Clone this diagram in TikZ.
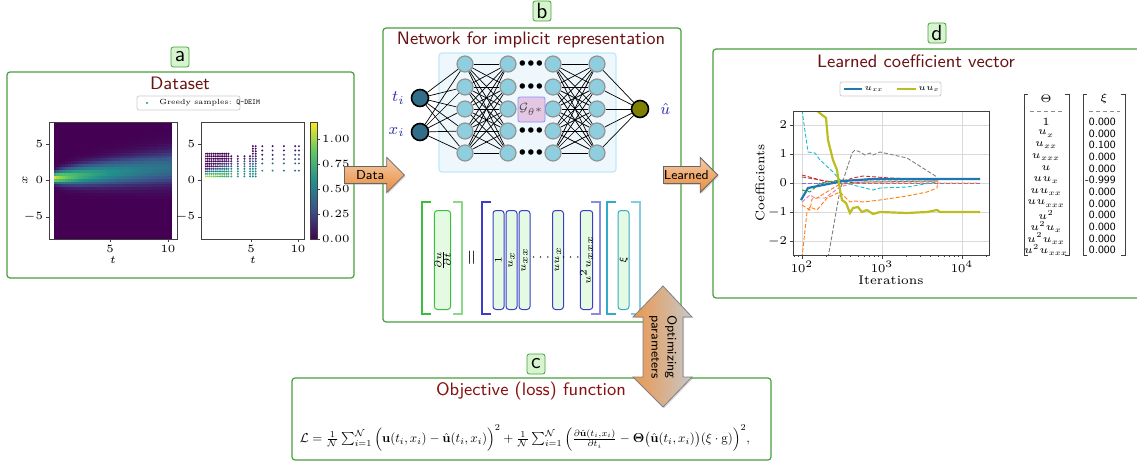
\RequirePackage{fix-cm}
\documentclass[tikz,border=0pt]{standalone}
\usepackage{amsmath}
\usepackage{xcolor}
\usepackage{graphicx}
\usetikzlibrary{positioning, backgrounds, shapes.arrows, shadows}

\definecolor{frame}{RGB}{70,160,60}
\definecolor{tagfill}{RGB}{214,245,206}
\definecolor{ttlred}{RGB}{105,20,20}
\definecolor{flowor}{RGB}{232,140,60}
\definecolor{nnblue}{RGB}{142,206,222}
\definecolor{nnteal}{RGB}{48,110,138}
\definecolor{nnolive}{RGB}{128,128,0}
\definecolor{nnlabel}{RGB}{50,50,170}
\definecolor{boxbg}{RGB}{238,248,252}
\definecolor{vecfill}{RGB}{228,250,226}
\definecolor{vecgreen}{RGB}{60,190,60}
\definecolor{vecblue}{RGB}{60,60,200}
\definecolor{veccyan}{RGB}{50,170,200}
\definecolor{vir0}{HTML}{440154}
\definecolor{vir1}{HTML}{3B528B}
\definecolor{vir2}{HTML}{21918C}
\definecolor{vir3}{HTML}{5EC962}
\definecolor{vir4}{HTML}{FDE725}
\definecolor{tabblue}{HTML}{1F77B4}
\definecolor{taborange}{HTML}{FF7F0E}
\definecolor{tabgreen}{HTML}{2CA02C}
\definecolor{tabred}{HTML}{D62728}
\definecolor{tabpurple}{HTML}{9467BD}
\definecolor{tabbrown}{HTML}{8C564B}
\definecolor{tabpink}{HTML}{E377C2}
\definecolor{tabgray}{HTML}{7F7F7F}
\definecolor{tabolive}{HTML}{BCBD22}
\definecolor{tabcyan}{HTML}{17BECF}

% viridis colour of the plume at (t,x), stored in cc
\newcommand{\plumecolor}[2]{%
  \pgfmathsetmacro\plz{min(9,((#2-0.3-0.14*#1)/(0.45+0.55*sqrt(#1)))^2)}%
  \pgfmathsetmacro\plv{1.15/((1+0.4*#1)^0.6)*exp(0-\plz)}%
  \pgfmathsetmacro\pln{min(3.999,\plv/1.17*4)}%
  \pgfmathtruncatemacro\plk{\pln}%
  \pgfmathtruncatemacro\plkk{\plk+1}%
  \pgfmathsetmacro\plf{(\pln-\plk)*100}%
  \colorlet{cc}{vir\plkk!\plf!vir\plk}}

\begin{document}
\begin{tikzpicture}[x=0.5pt, y=-0.5pt,
    panel/.style={draw=frame, line width=0.6pt, rounded corners=1.5pt},
    tag/.style={draw=frame, fill=tagfill, rounded corners=1.2pt, inner sep=0.8pt,
                minimum width=9pt, minimum height=10pt, font=\fontsize{11}{11}\sffamily},
    ttl/.style={text=ttlred, font=\fontsize{9}{10}\sffamily},
    tick/.style={font=\fontsize{5.5}{6}\selectfont, inner sep=0.8pt},
    axis/.style={draw=black!75, line width=0.4pt},
    grid/.style={draw=black!15, line width=0.5pt},
    flow/.style={single arrow, draw=black!60, top color=flowor!45!white, bottom color=flowor,
                 single arrow head extend=4.5pt, inner ysep=1.8pt, inner xsep=1pt,
                 font=\fontsize{6.5}{7}\sffamily, drop shadow={opacity=0.3, shadow xshift=0.6pt, shadow yshift=-0.6pt}},
    neuron/.style={circle, draw=gray!85, fill=nnblue, line width=0.6pt, minimum size=8pt, inner sep=0pt},
    inp/.style={circle, draw=black, fill=nnteal, line width=0.8pt, minimum size=8.5pt, inner sep=0pt},
    wire/.style={line width=0.35pt},
    vec/.style={fill=vecfill, rounded corners=1.5pt, line width=0.5pt, rotate=90,
                minimum width=49.5pt, minimum height=5.5pt, inner sep=0pt, font=\fontsize{5}{5}\selectfont},
    brk/.style={line width=0.6pt},
    cdash/.style={dash pattern=on 2pt off 1pt, line width=0.45pt},
    ent/.style={font=\fontsize{5.5}{6}\selectfont, inner sep=0pt},
  ]
\useasboundingbox (0,0) rectangle (1137,466);

% ---------------- panel a: dataset
\draw[panel] (7,72) rectangle (354,278);
\node[tag] (taga) at (180,57) {a};
\node[ttl] (ttla) at (180,83) {Dataset};
\draw[draw=black!20, rounded corners=1pt] (137,96) rectangle (240,110);
\fill[vir2] (147,103) circle (0.6pt);
\node[font=\fontsize{3.7}{4}\selectfont, anchor=west, inner sep=0pt] (lega) at (159,103) {Greedy samples: \texttt{Q-DEIM}};

% heat map
\begin{scope}
  \clip (54,122) rectangle (172,239);
  \fill[vir0] (54,122) rectangle (172,239);
  \begin{scope}[shift={(52,180)}, x=5.8pt, y=3.6pt]
    \foreach \ti in {0.25,0.5,...,10.3}
      \foreach \yi in {-2.4,-2,...,6.5} {
        \plumecolor{\ti}{\yi}
        \fill[cc] (\ti-0.13,\yi-0.21) rectangle (\ti+0.13,\yi+0.21);
      }
  \end{scope}
\end{scope}
\draw[axis] (49,122) rectangle (177,239);
\foreach \yy/\lab [count=\k] in {144/5,180/0,217/-5} {
  \draw[axis] (49,\yy) -- (46,\yy);
  \node[tick, anchor=east] (ayl\k) at (45,\yy) {$\lab$};
}
\foreach \xx/\lab [count=\k] in {110/5,168/10} {
  \draw[axis] (\xx,239) -- (\xx,242);
  \node[tick, anchor=north] (axl\k) at (\xx,243) {$\lab$};
}
\node[tick, rotate=90] (axy) at (25,180) {$x$};
\node[tick] (axt) at (113,260) {$t$};

% greedy samples
\begin{scope}[shift={(204,180)}, x=4.7pt, y=3.6pt]
  \foreach \ti in {0.2,0.4,...,2.65}
    \foreach \yi in {0.5,0.85,...,3.8} { \plumecolor{\ti}{\yi} \fill[cc] (\ti,\yi) circle (0.55pt); }
  \foreach \ti in {2.9,3.6,4.3,4.9}
    \foreach \yi in {0.5,0.85,...,3.4} { \plumecolor{\ti}{\yi} \fill[cc] (\ti,\yi) circle (0.55pt); }
  \foreach \ti in {5.2,5.5}
    \foreach \yi in {0.5,0.85,...,4.8} { \plumecolor{\ti}{\yi} \fill[cc] (\ti,\yi) circle (0.55pt); }
  \foreach \ti in {6.2,7.3,8.5,9.7,10.1}
    \foreach \yi in {1.3,2.3,2.9,3.5,4.1,4.7} { \plumecolor{\ti}{\yi} \fill[cc] (\ti,\yi) circle (0.55pt); }
\end{scope}
\draw[axis] (201,122) rectangle (304,239);
\foreach \yy/\lab [count=\k] in {144/5,180/0,217/-5} {
  \draw[axis] (201,\yy) -- (198,\yy);
  \node[tick, anchor=east] (byl\k) at (197,\yy) {$\lab$};
}
\foreach \xx/\lab [count=\k] in {251/5,298/10} {
  \draw[axis] (\xx,239) -- (\xx,242);
  \node[tick, anchor=north] (bxl\k) at (\xx,243) {$\lab$};
}
\node[tick] (bxt) at (253,260) {$t$};

% colour bar
\shade[bottom color=vir0, top color=vir1] (310,239) rectangle (317,209.75);
\shade[bottom color=vir1, top color=vir2] (310,209.75) rectangle (317,180.5);
\shade[bottom color=vir2, top color=vir3] (310,180.5) rectangle (317,151.25);
\shade[bottom color=vir3, top color=vir4] (310,151.25) rectangle (317,122);
\draw[axis] (310,122) rectangle (317,239);
\foreach \yy/\lab [count=\k] in {139/1.00,164/0.75,189/0.50,214/0.25,239/0.00} {
  \draw[axis] (317,\yy) -- (320,\yy);
  \node[tick, anchor=west] (cbl\k) at (320,\yy) {$\lab$};
}

% ---------------- panel b: network
\draw[panel] (383,28) rectangle (681,322);
\node[tag] (tagb) at (542,11) {b};
\node[ttl] (ttlb) at (531,40) {Network for implicit representation};

\node[inp] (in1) at (420,98) {};
\node[inp] (in2) at (420,132) {};
\node[left=-0.5pt of in1, text=nnlabel, font=\fontsize{8}{8}\selectfont] (lt) {$t_i$};
\node[left=-0.5pt of in2, text=nnlabel, font=\fontsize{8}{8}\selectfont] (lx) {$x_i$};
\foreach \c/\xx in {1/465,2/508,3/553,4/597}
  \foreach \r/\yy in {1/64,2/87,3/109,4/131,5/153}
    \node[neuron] (h\c-\r) at (\xx,\yy) {};
\node[inp, fill=nnolive] (out) at (640,109) {};
\node[right=2pt of out, text=nnlabel, font=\fontsize{8}{8}\selectfont] (lu) {$\hat{u}$};
\foreach \r/\yy in {1/64,2/87,4/131,5/153}
  \node[font=\fontsize{6}{6}\selectfont, inner sep=0pt] (dots\r) at (531,\yy) {$\bullet\!\bullet\!\bullet$};
\node[draw=blue!45, fill=violet!22, rounded corners=1pt, minimum width=13.5pt, minimum height=12.5pt,
      inner sep=0pt, text=black!70, font=\fontsize{6}{6}\selectfont] (gth) at (531.5,109.5) {$\mathcal{G}_{\theta^*}$};

\begin{scope}[on background layer]
  \draw[draw=cyan!25, fill=boxbg, line width=0.6pt, rounded corners=1.5pt] (439,53) rectangle (616,172);
  \foreach \i in {1,2}
    \foreach \r in {1,...,5} \draw[wire] (in\i) -- (h1-\r);
  \foreach \a in {1,...,5}
    \foreach \b in {1,...,5} {
      \draw[wire] (h1-\a) -- (h2-\b);
      \draw[wire] (h3-\a) -- (h4-\b);
    }
  \foreach \r in {1,...,5} \draw[wire] (h4-\r) -- (out);
\end{scope}

% library of candidate terms
\foreach \l/\r/\c in {422/462/vecgreen, 482/600/vecblue, 607/640/veccyan} {
  \draw[brk, \c] (\l+9,202) -- (\l,202) -- (\l,314) -- (\l+9,314);
  \draw[brk, \c!60] (\r-9,202) -- (\r,202) -- (\r,314) -- (\r-9,314);
}
\node[vec, draw=vecgreen, minimum height=6.5pt] (dudt) at (442.5,260) {$\frac{\partial u}{\partial t}$};
\node[rotate=90, font=\fontsize{10}{10}\selectfont] (eqs) at (473,258) {$=$};
\node[vec, draw=vecblue] (th1) at (498.5,260) {$1$};
\node[vec, draw=vecblue] (th2) at (511.5,260) {$u_x$};
\node[vec, draw=vecblue] (th3) at (524.5,260) {$u_{xx}$};
\node[font=\fontsize{6}{6}\selectfont] (vd1) at (542,258) {$\cdots$};
\node[vec, draw=vecblue] (th4) at (558,260) {$uu_x$};
\node[font=\fontsize{6}{6}\selectfont] (vd2) at (572,258) {$\cdots$};
\node[vec, draw=vecblue] (th5) at (586.5,260) {$u^2u_{xxx}$};
\node[vec, draw=veccyan] (xiv) at (623.5,260) {$\xi$};

% ---------------- panel c: loss
\draw[panel] (292,378) rectangle (771,460);
\node[tag] (tagc) at (536,364) {c};
\node[ttl, text=ttlred!80!red] (ttlc) at (531,391) {Objective (loss) function};
\node[inner sep=0pt] (loss) at (525,438)
  {\resizebox{225pt}{!}{$\mathcal{L} = \frac{1}{\mathcal{N}}\sum_{i=1}^{\mathcal{N}} \Big(\mathbf{u}(t_i,x_i) - \hat{\mathbf{u}}(t_i,x_i)\Big)^2
   + \frac{1}{\mathcal{N}}\sum_{i=1}^{\mathcal{N}} \Big(\frac{\partial\hat{\mathbf{u}}(t_i,x_i)}{\partial t_i}
   - \mathbf{\Theta}\big(\hat{\mathbf{u}}(t_i,x_i)\big)(\xi\cdot\mathrm{g})\Big)^2,$}};

% ---------------- panel d: learned coefficients
\draw[panel] (713,49) rectangle (1145,298);
\node[tag] (tagd) at (937,33) {d};
\node[ttl] (ttld) at (916,61) {Learned coefficient vector};

\draw[draw=black!20, rounded corners=1pt] (840,82) rectangle (941,96);
\draw[tabblue, line width=1.1pt] (844,89) -- (862,89);
\node[tick, font=\fontsize{4.5}{5}\selectfont] (legd1) at (874,89) {$u_{xx}$};
\draw[tabolive, line width=1.1pt] (897,89) -- (916,89);
\node[tick, font=\fontsize{4.5}{5}\selectfont] (legd2) at (929,89) {$uu_x$};

\foreach \yy in {125,154,183,212,241} \draw[grid] (793,\yy) -- (989,\yy);
\foreach \xx in {802,882,962} \draw[grid] (\xx,111) -- (\xx,255);
\begin{scope}
  \clip (793,111) rectangle (989,255);
  \draw[cdash, tabpurple] plot coordinates {(802,183) (980,183)};
  \draw[cdash, tabbrown] plot coordinates {(802,177) (820,180) (840,183) (870,182) (937,181)};
  \draw[cdash, tabgreen] plot coordinates {(802,190) (810,192) (820,183) (840,180) (870,181) (937,181)};
  \draw[cdash, tabred] plot coordinates {(802,175) (813,178) (827,182) (840,182) (853,178) (863,176) (890,178) (937,180)};
  \draw[cdash, tabpink] plot coordinates {(802,202) (810,195) (815,198) (825,198) (840,187) (857,182) (900,182) (937,182)};
  \draw[cdash, taborange] plot coordinates {(802,205) (810,210) (812,199) (817,198) (830,190) (840,184) (860,183) (980,183)};
  \draw[cdash, taborange] plot coordinates {(802,258) (807,212) (810,207) (817,210) (827,198) (840,192) (850,202)
    (855,201) (863,202) (880,200) (907,196) (927,192) (937,188) (938,180)};
  \draw[cdash, tabgray] plot coordinates {(828,258) (840,190) (852,153) (855,150) (860,152) (865,155) (870,153)
    (873,155) (880,152) (907,158) (937,177)};
  \draw[cdash, tabcyan] plot coordinates {(802,110) (808,152) (815,153) (820,160) (833,172) (840,180) (853,185)
    (873,190) (880,188) (907,187) (937,182)};
  \draw[tabblue, line width=1.1pt] plot coordinates {(801,200) (808,188) (813,187) (833,183) (843,181) (873,179) (980,179)};
  \draw[tabolive, line width=1.1pt] plot coordinates {(816,110) (826,118) (828,140) (833,160) (837,170) (840,190)
    (842,200) (846,203) (850,213) (853,208) (858,207) (862,212) (867,210) (873,214) (880,212) (907,213)
    (927,212) (937,210) (940,212) (980,212)};
\end{scope}
\draw[axis] (793,111) rectangle (989,255);
\foreach \yy/\lab [count=\k] in {125/2,154/1,183/0,212/-1,241/-2} {
  \draw[axis] (793,\yy) -- (790,\yy);
  \node[tick, font=\fontsize{6}{6}\selectfont, anchor=east] (dyl\k) at (789,\yy) {$\lab$};
}
\foreach \xx/\lab [count=\k] in {802/2,882/3,962/4} {
  \draw[axis] (\xx,255) -- (\xx,259);
  \node[tick, font=\fontsize{6}{6}\selectfont, anchor=north] (dxl\k) at (\xx,259) {$10^{\lab}$};
}
\begin{scope}
  \clip (793,250) rectangle (989,262);
  \foreach \d in {722,802,882,962}
    \foreach \m in {2,...,9} \draw[axis, line width=0.3pt] ({\d+80*log10(\m)},255) -- ({\d+80*log10(\m)},257);
\end{scope}
\node[rotate=90, font=\fontsize{6.3}{7}\selectfont] (dyt) at (760,183) {Coefficients};
\node[font=\fontsize{6.3}{7}\selectfont] (dxt) at (891,280) {Iterations};

% Theta and xi
\foreach \l/\r in {1024/1069, 1083/1125} {
  \draw[axis] (\l+4,94) -- (\l,94) -- (\l,255) -- (\l+4,255);
  \draw[axis] (\r-4,94) -- (\r,94) -- (\r,255) -- (\r-4,255);
}
\node[ent] (thh) at (1046,99) {$\Theta$};
\node[ent] (xih) at (1104,99) {$\xi$};
\draw[black!45, dash pattern=on 2pt off 1.5pt] (1030,111) -- (1062,111);
\draw[black!45, dash pattern=on 2pt off 1.5pt] (1089,111) -- (1120,111);
\foreach \e [count=\k from 0] in {1,u_x,u_{xx},u_{xxx},u,uu_x,uu_{xx},uu_{xxx},u^2,u^2u_x,u^2u_{xx},u^2u_{xxx}}
  \node[ent] (te\k) at (1046,{122+11.65*\k}) {$\e$};
\foreach \v [count=\k from 0] in {0.000,0.000,0.100,0.000,0.000,-0.999,0.000,0.000,0.000,0.000,0.000,0.000}
  \node[ent, font=\fontsize{5.5}{6}\sffamily, anchor=east] (xe\k) at (1116,{122+11.65*\k}) {\v};

% ---------------- arrows between panels
\node[flow, anchor=tail, minimum height=30pt] (dataarr) at (344,175) {Data};
\node[flow, anchor=tail, inner xsep=0pt] (learnarr) at (663,175) {Learned};
\path[draw=black!50, left color=flowor!90!white, right color=black!22,
      drop shadow={opacity=0.3, shadow xshift=0.6pt, shadow yshift=-0.6pt}]
  (663,286) -- (692,317) -- (683,317) -- (683,377) -- (692,377) -- (663,407)
  -- (633,377) -- (643,377) -- (643,317) -- (633,317) -- cycle;
\node[rotate=-90, align=center, font=\fontsize{6.5}{8}\sffamily] (optlbl) at (663,347) {Optimizing\\parameters};

\end{tikzpicture}
\end{document}
